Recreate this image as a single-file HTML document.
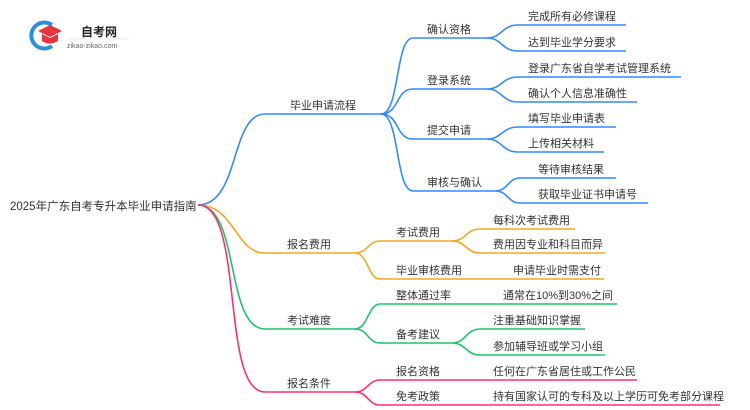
<!DOCTYPE html>
<html><head><meta charset="utf-8"><style>
html,body{margin:0;padding:0;background:#fff;}
svg{display:block;}
text{font-family:"Liberation Sans","Noto Sans CJK SC",sans-serif;font-size:11px;fill:#333;}
</style></head><body>
<svg width="750" height="410" viewBox="0 0 750 410" xmlns="http://www.w3.org/2000/svg">
<!-- logo -->
<path d="M52 25 A13 13 0 1 0 52 46" fill="none" stroke="#2a8fe0" stroke-width="4"/>
<path d="M38 31 L50 25 L62 31 L50 37 Z" fill="#e8323c"/>
<path d="M42 34 L42 41 Q50 46 58 41 L58 34 L50 38 Z" fill="#e8323c"/>
<text x="81" y="36" style="font-size:12px;font-weight:bold;fill:#222">自考网</text>
<line x1="67" y1="39" x2="130" y2="39" stroke="#ddd" stroke-width="0.5"/>
<text x="67" y="48" style="font-size:7px;fill:#666">zikao-zikao.com</text>

<text x="10" y="210" style="font-size:11.5px">2025年广东自考专升本毕业申请指南</text>

<g fill="none" stroke-width="1.6">
<g stroke="#2f8bff">
<path d="M198 205 C240 205,230 114,265 114 H381"/>
<path d="M381 114 C400 114,395 38,413 38 H487"/>
<path d="M381 114 C400 114,395 89,413 89 H487"/>
<path d="M381 114 C400 114,395 139,413 139 H487"/>
<path d="M381 114 C400 114,395 191,413 191 H495"/>
<path d="M487 38 C502 38,502 25,518 25 H626"/>
<path d="M487 38 C502 38,502 51,518 51 H626"/>
<path d="M487 89 C502 89,502 77,518 77 H681"/>
<path d="M487 89 C502 89,502 102,518 102 H637"/>
<path d="M487 139 C502 139,502 127,518 127 H616"/>
<path d="M487 139 C502 139,502 152,518 152 H604"/>
<path d="M495 191 C508 191,508 178,520 178 H616"/>
<path d="M495 191 C508 191,508 203,520 203 H648"/>
</g>
<g stroke="#f5a623">
<path d="M198 205 C235 205,235 253,265 253 H355"/>
<path d="M355 253 C368 253,368 241,380 241 H452"/>
<path d="M355 253 C368 253,368 279,380 279 H604"/>
<path d="M452 241 C466 241,466 229,480 229 H575"/>
<path d="M452 241 C466 241,466 253,480 253 H605"/>
</g>
<g stroke="#1fc46a">
<path d="M198 205 C240 205,225 329,265 329 H355"/>
<path d="M355 329 C368 329,368 304,380 304 H617"/>
<path d="M355 329 C368 329,368 343,380 343 H452"/>
<path d="M452 343 C466 343,466 329,480 329 H585"/>
<path d="M452 343 C466 343,466 355,480 355 H605"/>
</g>
<g stroke="#ff2d7a">
<path d="M198 205 C245 205,220 392,265 392 H355"/>
<path d="M355 392 C368 392,368 380,380 380 H637"/>
<path d="M355 392 C368 392,368 405,380 405 H720"/>
</g>
</g>

<text x="290" y="109">毕业申请流程</text>
<text x="427" y="33">确认资格</text>
<text x="427" y="84">登录系统</text>
<text x="427" y="134">提交申请</text>
<text x="427" y="186">审核与确认</text>
<text x="528" y="20">完成所有必修课程</text>
<text x="528" y="46">达到毕业学分要求</text>
<text x="528" y="72">登录广东省自学考试管理系统</text>
<text x="528" y="97">确认个人信息准确性</text>
<text x="528" y="122">填写毕业申请表</text>
<text x="528" y="147">上传相关材料</text>
<text x="538" y="173">等待审核结果</text>
<text x="538" y="198">获取毕业证书申请号</text>

<text x="287" y="248">报名费用</text>
<text x="396" y="236">考试费用</text>
<text x="396" y="274">毕业审核费用</text>
<text x="493" y="224">每科次考试费用</text>
<text x="493" y="248">费用因专业和科目而异</text>
<text x="513" y="274">申请毕业时需支付</text>

<text x="287" y="324">考试难度</text>
<text x="396" y="299">整体通过率</text>
<text x="396" y="338">备考建议</text>
<text x="503" y="299">通常在10%到30%之间</text>
<text x="493" y="324">注重基础知识掌握</text>
<text x="493" y="350">参加辅导班或学习小组</text>

<text x="287" y="387">报名条件</text>
<text x="396" y="375">报名资格</text>
<text x="396" y="400">免考政策</text>
<text x="493" y="375">任何在广东省居住或工作公民</text>
<text x="493" y="400">持有国家认可的专科及以上学历可免考部分课程</text>
</svg>
</body></html>
